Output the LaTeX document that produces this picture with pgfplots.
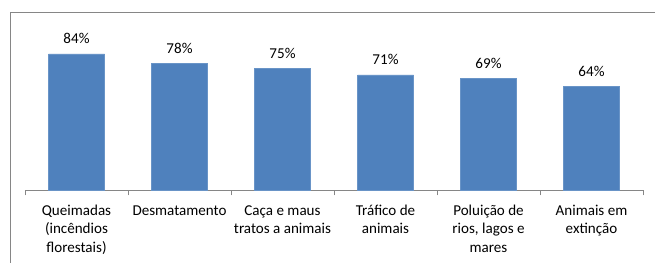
\documentclass[border=0pt]{standalone}
\usepackage{pgfplots}
\pgfplotsset{compat=1.18}
\usepackage{fontspec}
\setmainfont{Carlito}
\definecolor{barblue}{HTML}{4F81BD}
\definecolor{framegray}{HTML}{868686}
\begin{document}
\begin{tikzpicture}
\path[use as bounding box] (0pt,0pt) rectangle (491.25pt,-196.5pt);
\clip (0pt,0pt) rectangle (491.25pt,-196.5pt);
\draw[framegray, line width=0.75pt] (7.5pt,-300pt) -- (7.5pt,-9pt) -- (600pt,-9pt);
\begin{axis}[
  at={(18.75pt,-142.5pt)}, anchor=south west,
  scale only axis,
  width=463.5pt, height=121.5pt,
  xmin=-0.5, xmax=5.5, ymin=0, ymax=100,
  axis x line=bottom, axis y line=none,
  axis line style={-, framegray, line width=0.75pt},
  xtick={0,...,5},
  xticklabels={{Queimadas\\(incêndios\\florestais)}, {Desmatamento}, {Caça e maus\\tratos a animais}, {Tráfico de\\animais}, {Poluição de\\rios, lagos e\\mares}, {Animais em\\extinção}},
  x tick label style={align=center, font=\fontsize{11.3pt}{13.6pt}\selectfont, yshift=-8pt},
  major tick length=0pt,
  minor xtick={-0.5,0.5,...,5.5},
  minor tick length=4pt,
  xtick align=outside,
  minor tick style={framegray, line width=0.75pt},
  /pgf/number format/assume math mode=true,
  ybar, bar width=42pt,
  nodes near coords={\pgfmathprintnumber{\pgfplotspointmeta}\%},
  every node near coord/.append style={font=\fontsize{11.3pt}{13.6pt}\selectfont, yshift=4pt},
]
\addplot[fill=barblue, draw=barblue!85!white, bar shift=0pt] coordinates {(0,84) (1,78) (2,75) (3,71) (4,69) (5,64)};
\end{axis}
\end{tikzpicture}
\end{document}
